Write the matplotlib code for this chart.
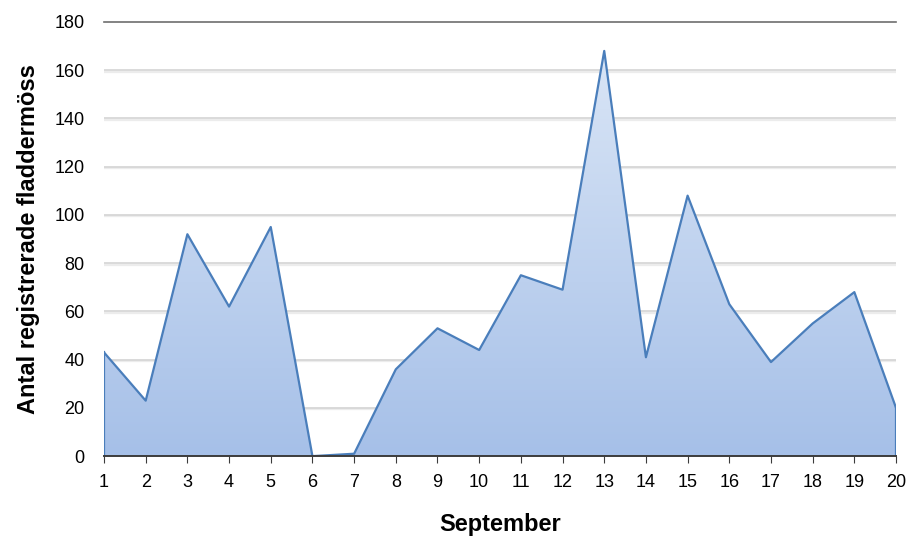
import matplotlib
matplotlib.use("Agg")
import matplotlib.pyplot as plt
import numpy as np
from matplotlib.colors import LinearSegmentedColormap

plt.rcParams['font.family'] = ['Liberation Sans', 'DejaVu Sans']

days = list(range(1, 21))
counts = [43, 23, 92, 62, 95, 0, 1, 36, 53, 44, 75, 69, 168, 41, 108, 63, 39, 55, 68, 20]
yticks = [0, 20, 40, 60, 80, 100, 120, 140, 160, 180]

fig = plt.figure(figsize=(9.06, 5.36), dpi=100)
ax = fig.add_axes([0.1148, 0.149, 0.8742, 0.810])
ax.set_xlim(days[0], days[-1])
ax.set_ylim(0, 180)

# grid lines with a faint shadow underneath
for v in yticks[1:-1]:
    ax.axhline(v - 0.6, color='#ececec', lw=1.6, zorder=0)
    ax.axhline(v, color='#d4d4d4', lw=1.2, zorder=0)
ax.axhline(180, color='#6e6e6e', lw=1.2, zorder=1, clip_on=False)

# area with vertical gradient, clipped to the data polygon
verts = [(days[0], 0)] + list(zip(days, counts)) + [(days[-1], 0)]
poly = plt.Polygon(verts, closed=True, facecolor='none', edgecolor='none')
ax.add_patch(poly)
cmap = LinearSegmentedColormap.from_list('area', ['#a6c0e8', '#dde8f7'])
grad = np.linspace(0, 1, 256).reshape(-1, 1)
img = ax.imshow(grad, cmap=cmap, aspect='auto', origin='lower',
                extent=[days[0], days[-1], 0, 180], zorder=2)
img.set_clip_path(poly)

ax.plot(days, counts, color='#4a7ebb', lw=1.6, zorder=3)
ax.plot([days[0], days[0]], [0, counts[0]], color='#4a7ebb', lw=1.6, zorder=3)
ax.plot([days[-1], days[-1]], [0, counts[-1]], color='#4a7ebb', lw=1.6, zorder=3)

for s in ['top', 'right', 'left']:
    ax.spines[s].set_visible(False)
ax.spines['bottom'].set_color('#3c3c3c')
ax.spines['bottom'].set_linewidth(1.4)
ax.spines['bottom'].set_zorder(4)

ax.set_xticks(days)
ax.set_yticks(yticks)
ax.tick_params(axis='x', direction='out', length=5, color='#3c3c3c', labelsize=13, pad=8)
ax.tick_params(axis='y', length=0, labelsize=13, pad=14)

ax.set_xlabel('September', fontsize=17, fontweight='bold', labelpad=16)
ax.set_ylabel('Antal registrerade fladdermöss', fontsize=17, fontweight='bold', labelpad=10)

fig.savefig('out.png', dpi=100)
